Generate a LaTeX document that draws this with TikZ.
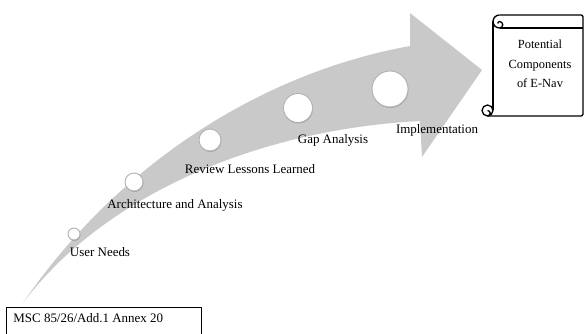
\documentclass[tikz,border=0pt]{standalone}
\usepackage{fontspec}
\setmainfont{Liberation Serif}
\usetikzlibrary{shadows}
\begin{document}
\begin{tikzpicture}[>=latex,line join=bevel,]
  \pgfsetlinewidth{1bp}
  \useasboundingbox (0bp,0bp) rectangle (585bp,334bp);
  \clip (0bp,0bp) rectangle (585bp,334bp);
  \tikzset{stepdot/.style={circle,fill=white,draw=gray!60,line width=0.9bp,inner sep=0pt,
      drop shadow={shadow xshift=0.4bp,shadow yshift=-0.9bp,fill=gray!90,opacity=0.7}},
    steplabel/.style={font=\fontsize{13}{15}\selectfont,inner sep=0pt}}
%%
  \definecolor{arrowcol}{rgb}{0.79,0.79,0.79}
  % Shape: big arrow
  \fill [arrowcol] (23bp,31bp) .. controls (110bp,159bp) and (250bp,259bp) .. (410bp,288bp)
    -- (410bp,321bp) -- (482bp,264bp) -- (422bp,177bp) -- (420bp,213bp)
    .. controls (250bp,204bp) and (100bp,134bp) .. (23bp,31bp) -- cycle;
  % Node: circles
  \node [stepdot,minimum size=12bp] (un) at (74bp,100bp) {};
  \node [stepdot,minimum size=18bp] (aa) at (134bp,152bp) {};
  \node [stepdot,minimum size=22bp] (rl) at (210bp,194bp) {};
  \node [stepdot,minimum size=29bp] (ga) at (298bp,226bp) {};
  \node [stepdot,minimum size=36bp] (im) at (390bp,245bp) {};
  % Node: labels
  \node [steplabel] (un-l) at (100bp,82bp) {User Needs};
  \node [steplabel] (aa-l) at (175bp,129bp) {Architecture and Analysis};
  \node [steplabel] (rl-l) at (250bp,165bp) {Review Lessons Learned};
  \node [steplabel] (ga-l) at (333bp,194bp) {Gap Analysis};
  \node [steplabel] (im-l) at (437bp,204bp) {Implementation};
  % Node: scroll
\begin{scope}
  \pgfsetstrokecolor{black}
  \pgfsetlinewidth{1.3bp}
  \draw [rounded corners=2bp] (499.5bp,319bp) -- (583bp,319bp) -- (583bp,218bp) -- (487.5bp,218bp);
  \draw (499.5bp,306bp) -- (583bp,306bp);
  \draw (493bp,312.5bp) -- (493bp,223.5bp);
  \draw (499.5bp,319bp) arc (90:270:6.5bp) arc (-90:90:3.25bp) arc (90:200:1.6bp);
  \draw (487.5bp,223.5bp) circle (5.5bp);
  \draw (487.5bp,218bp) arc (-90:90:2.75bp);
  \node [align=center,font=\fontsize{12.5}{19.5}\selectfont,inner sep=0pt] (pce) at (540bp,270bp) {Potential\\Components\\of E-Nav};
\end{scope}
  % Node: source box
\begin{scope}
  \pgfsetlinewidth{0.9bp}
  \draw (6bp,-5bp) rectangle (201bp,27bp);
  \node [steplabel,anchor=west] (msc) at (13bp,16bp) {MSC 85/26/Add.1 Annex 20};
\end{scope}
%
\end{tikzpicture}
\end{document}
